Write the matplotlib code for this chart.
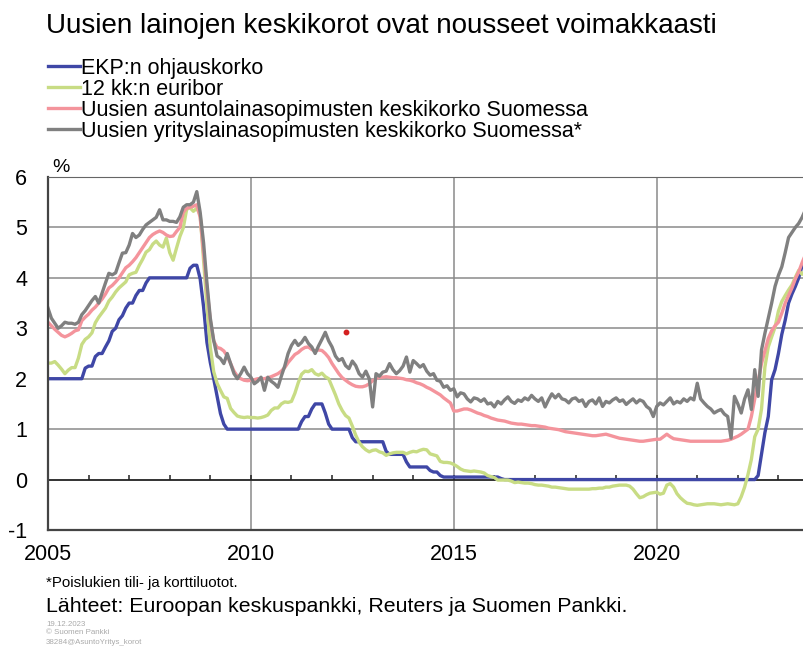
import numpy as np
import matplotlib
matplotlib.use("Agg")
import matplotlib.pyplot as plt

plt.rcParams['font.family'] = ['Liberation Sans', 'DejaVu Sans']
plt.rcParams['axes.unicode_minus'] = False

# monthly values, Jan 2005 onwards (one row per year)
ekp = [
    2.00, 2.00, 2.00, 2.00, 2.00, 2.00, 2.00, 2.00, 2.00, 2.00, 2.00, 2.21,
    2.25, 2.25, 2.44, 2.50, 2.50, 2.63, 2.75, 2.94, 3.00, 3.17, 3.25, 3.40,
    3.50, 3.50, 3.65, 3.75, 3.75, 3.90, 4.00, 4.00, 4.00, 4.00, 4.00, 4.00,
    4.00, 4.00, 4.00, 4.00, 4.00, 4.00, 4.19, 4.25, 4.25, 3.98, 3.43, 2.72,
    2.32, 2.00, 1.66, 1.31, 1.10, 1.00, 1.00, 1.00, 1.00, 1.00, 1.00, 1.00,
    1.00, 1.00, 1.00, 1.00, 1.00, 1.00, 1.00, 1.00, 1.00, 1.00, 1.00, 1.00,
    1.00, 1.00, 1.00, 1.15, 1.25, 1.25, 1.40, 1.50, 1.50, 1.50, 1.32, 1.10,
    1.00, 1.00, 1.00, 1.00, 1.00, 1.00, 0.83, 0.75, 0.75, 0.75, 0.75, 0.75,
    0.75, 0.75, 0.75, 0.75, 0.56, 0.50, 0.50, 0.50, 0.50, 0.50, 0.35, 0.25,
    0.25, 0.25, 0.25, 0.25, 0.25, 0.18, 0.15, 0.15, 0.08, 0.05, 0.05, 0.05,
    0.05, 0.05, 0.05, 0.05, 0.05, 0.05, 0.05, 0.05, 0.05, 0.05, 0.05, 0.05,
    0.05, 0.05, 0.02, 0.00, 0.00, 0.00, 0.00, 0.00, 0.00, 0.00, 0.00, 0.00,
    0.00, 0.00, 0.00, 0.00, 0.00, 0.00, 0.00, 0.00, 0.00, 0.00, 0.00, 0.00,
    0.00, 0.00, 0.00, 0.00, 0.00, 0.00, 0.00, 0.00, 0.00, 0.00, 0.00, 0.00,
    0.00, 0.00, 0.00, 0.00, 0.00, 0.00, 0.00, 0.00, 0.00, 0.00, 0.00, 0.00,
    0.00, 0.00, 0.00, 0.00, 0.00, 0.00, 0.00, 0.00, 0.00, 0.00, 0.00, 0.00,
    0.00, 0.00, 0.00, 0.00, 0.00, 0.00, 0.00, 0.00, 0.00, 0.00, 0.00, 0.00,
    0.00, 0.00, 0.00, 0.00, 0.00, 0.00, 0.08, 0.50, 0.93, 1.25, 1.98, 2.18,
    2.50, 2.88, 3.16, 3.50, 3.68, 3.83, 4.00, 4.24, 4.34, 4.50, 4.50,
]

euribor = [
    2.31, 2.31, 2.34, 2.27, 2.19, 2.10, 2.17, 2.22, 2.22, 2.41, 2.68, 2.78,
    2.83, 2.91, 3.11, 3.22, 3.31, 3.40, 3.54, 3.62, 3.72, 3.80, 3.86, 3.92,
    4.06, 4.09, 4.11, 4.25, 4.37, 4.51, 4.56, 4.67, 4.73, 4.65, 4.61, 4.79,
    4.50, 4.35, 4.59, 4.82, 4.99, 5.36, 5.39, 5.32, 5.38, 5.25, 4.35, 3.45,
    2.62, 2.14, 1.91, 1.77, 1.64, 1.61, 1.41, 1.33, 1.26, 1.24, 1.23, 1.24,
    1.23, 1.23, 1.22, 1.23, 1.25, 1.28, 1.37, 1.42, 1.42, 1.50, 1.54, 1.53,
    1.55, 1.71, 1.92, 2.09, 2.15, 2.14, 2.18, 2.10, 2.07, 2.11, 2.04, 2.00,
    1.84, 1.68, 1.50, 1.37, 1.27, 1.22, 1.06, 0.88, 0.74, 0.65, 0.59, 0.55,
    0.58, 0.59, 0.55, 0.53, 0.48, 0.51, 0.53, 0.54, 0.54, 0.54, 0.51, 0.54,
    0.56, 0.55, 0.58, 0.60, 0.59, 0.51, 0.49, 0.47, 0.36, 0.34, 0.34, 0.33,
    0.30, 0.26, 0.21, 0.18, 0.17, 0.16, 0.17, 0.16, 0.15, 0.13, 0.08, 0.06,
    0.04, -0.01, -0.01, -0.01, -0.01, -0.03, -0.06, -0.05, -0.06, -0.07, -0.07, -0.08,
    -0.10, -0.11, -0.11, -0.12, -0.13, -0.15, -0.15, -0.16, -0.17, -0.18, -0.19, -0.19,
    -0.19, -0.19, -0.19, -0.19, -0.19, -0.18, -0.18, -0.17, -0.17, -0.15, -0.15, -0.13,
    -0.12, -0.11, -0.11, -0.11, -0.13, -0.19, -0.28, -0.36, -0.34, -0.30, -0.27, -0.26,
    -0.25, -0.29, -0.27, -0.11, -0.08, -0.15, -0.28, -0.36, -0.42, -0.47, -0.48, -0.50,
    -0.51, -0.50, -0.49, -0.48, -0.48, -0.48, -0.49, -0.50, -0.49, -0.48, -0.49, -0.50,
    -0.48, -0.34, -0.15, 0.10, 0.40, 0.85, 1.00, 1.40, 2.23, 2.63, 2.83, 3.02,
    3.34, 3.53, 3.65, 3.76, 3.86, 4.01, 4.15, 4.07, 4.15, 4.16, 4.02,
]

asuntolainat = [
    3.12, 3.05, 2.98, 2.92, 2.86, 2.83, 2.86, 2.90, 2.95, 2.97, 3.15, 3.22,
    3.28, 3.36, 3.42, 3.50, 3.58, 3.68, 3.80, 3.85, 3.92, 4.00, 4.10, 4.20,
    4.25, 4.32, 4.40, 4.50, 4.60, 4.70, 4.80, 4.86, 4.90, 4.93, 4.90, 4.85,
    4.82, 4.83, 4.92, 5.00, 5.30, 5.38, 5.40, 5.42, 5.45, 5.20, 4.50, 3.80,
    3.15, 2.75, 2.62, 2.60, 2.55, 2.45, 2.30, 2.15, 2.05, 2.00, 1.97, 1.96,
    1.97, 1.98, 2.00, 2.00, 2.00, 2.02, 2.04, 2.07, 2.10, 2.15, 2.22, 2.32,
    2.40, 2.48, 2.52, 2.58, 2.62, 2.63, 2.58, 2.55, 2.57, 2.56, 2.50, 2.42,
    2.30, 2.20, 2.10, 2.02, 1.97, 1.92, 1.88, 1.85, 1.84, 1.84, 1.86, 1.90,
    1.96, 2.00, 2.03, 2.03, 2.04, 2.03, 2.02, 2.02, 2.01, 2.00, 1.98, 1.97,
    1.95, 1.92, 1.90, 1.87, 1.83, 1.80, 1.76, 1.72, 1.68, 1.62, 1.57, 1.52,
    1.36, 1.36, 1.38, 1.40, 1.40, 1.38, 1.35, 1.32, 1.30, 1.27, 1.25, 1.22,
    1.20, 1.18, 1.17, 1.16, 1.14, 1.12, 1.11, 1.10, 1.10, 1.09, 1.08, 1.07,
    1.07, 1.06, 1.05, 1.04, 1.02, 1.01, 1.00, 0.99, 0.97, 0.95, 0.94, 0.93,
    0.92, 0.91, 0.90, 0.89, 0.88, 0.87, 0.87, 0.88, 0.89, 0.90, 0.88, 0.86,
    0.84, 0.82, 0.81, 0.80, 0.79, 0.78, 0.77, 0.76, 0.76, 0.77, 0.78, 0.79,
    0.80, 0.80, 0.85, 0.90, 0.85, 0.81, 0.80, 0.79, 0.78, 0.77, 0.76, 0.76,
    0.76, 0.76, 0.76, 0.76, 0.76, 0.76, 0.76, 0.76, 0.77, 0.78, 0.80, 0.83,
    0.86, 0.90, 0.95, 1.00, 1.25, 1.60, 1.95, 2.30, 2.55, 2.80, 2.95, 3.05,
    3.12, 3.30, 3.50, 3.65, 3.80, 3.98, 4.12, 4.30, 4.46, 4.60, 4.65,
]

yrityslainat = [
    3.40, 3.20, 3.10, 3.00, 3.05, 3.12, 3.10, 3.10, 3.08, 3.12, 3.27, 3.35,
    3.45, 3.55, 3.63, 3.50, 3.70, 3.90, 4.09, 4.06, 4.10, 4.30, 4.49, 4.50,
    4.65, 4.88, 4.80, 4.85, 4.96, 5.05, 5.10, 5.15, 5.20, 5.35, 5.15, 5.15,
    5.12, 5.12, 5.10, 5.21, 5.40, 5.45, 5.45, 5.50, 5.71, 5.30, 4.70, 3.90,
    3.20, 2.76, 2.45, 2.40, 2.30, 2.50, 2.30, 2.10, 2.00, 2.10, 2.23, 2.10,
    2.03, 1.90, 1.95, 2.03, 1.77, 2.03, 1.95, 1.90, 1.83, 2.05, 2.25, 2.50,
    2.66, 2.76, 2.66, 2.72, 2.82, 2.70, 2.63, 2.50, 2.65, 2.78, 2.92, 2.75,
    2.63, 2.45, 2.36, 2.40, 2.26, 2.20, 2.35, 2.26, 2.10, 2.03, 2.15, 2.00,
    1.44, 2.10, 2.05, 2.13, 2.15, 2.30, 2.18, 2.10, 2.16, 2.25, 2.43, 2.13,
    2.36, 2.30, 2.23, 2.28, 2.15, 2.07, 2.10, 1.97, 1.95, 1.83, 1.86, 1.77,
    1.80, 1.64, 1.72, 1.70, 1.60, 1.54, 1.62, 1.60, 1.55, 1.60, 1.50, 1.52,
    1.44, 1.55, 1.50, 1.58, 1.64, 1.55, 1.51, 1.58, 1.55, 1.62, 1.58, 1.67,
    1.60, 1.55, 1.62, 1.44, 1.58, 1.70, 1.62, 1.69, 1.60, 1.58, 1.52, 1.60,
    1.62, 1.55, 1.58, 1.45, 1.55, 1.58, 1.50, 1.62, 1.45, 1.55, 1.52, 1.58,
    1.62, 1.55, 1.58, 1.49, 1.55, 1.60, 1.52, 1.58, 1.55, 1.45, 1.40, 1.25,
    1.45, 1.52, 1.48, 1.55, 1.62, 1.50, 1.55, 1.52, 1.60, 1.55, 1.62, 1.58,
    1.91, 1.60, 1.52, 1.45, 1.40, 1.32, 1.36, 1.39, 1.30, 1.25, 0.82, 1.65,
    1.50, 1.32, 1.60, 1.78, 1.39, 2.18, 1.65, 2.57, 2.90, 3.20, 3.50, 3.83,
    4.05, 4.22, 4.50, 4.80, 4.90, 5.00, 5.08, 5.20, 5.35, 5.40, 5.40,
]

red_dot = (2012.35, 2.93)

series = [
    ("EKP:n ohjauskorko", ekp, "#3f47a6"),
    ("12 kk:n euribor", euribor, "#c8dc84"),
    ("Uusien asuntolainasopimusten keskikorko Suomessa", asuntolainat, "#f4949c"),
    ("Uusien yrityslainasopimusten keskikorko Suomessa*", yrityslainat, "#808080"),
]

fig = plt.figure(figsize=(8.04, 6.51), dpi=100)
ax = fig.add_axes([48 / 804, 121 / 651, 771 / 804, 353 / 651])

for label, vals, col in series:
    t = 2005 + np.arange(len(vals)) / 12
    ax.plot(t, vals, color=col, lw=2.4, label=label, solid_joinstyle='round')

ax.plot(*red_dot, 'o', color='#d42020', ms=3.2)

ax.set_xlim(2005, 2024)
ax.set_ylim(-1, 6)
ax.set_yticks(range(-1, 7))
ax.set_xticks([2005, 2010, 2015, 2020])
ax.tick_params(axis='both', length=0, labelsize=15.5)
ax.tick_params(axis='y', pad=15)
ax.tick_params(axis='x', pad=10)
ax.grid(True, color='#8a8a8a', lw=1.1)
ax.set_axisbelow(True)
ax.axhline(0, color='#222222', lw=1.2, zorder=1.5)
ax.vlines(np.arange(2006, 2024), 0, 0.1, color='#222222', lw=1.1, zorder=1.5)

for side in ['left', 'bottom']:
    ax.spines[side].set_color('#444444')
    ax.spines[side].set_linewidth(1.6)
ax.spines['top'].set_color('#666666')
ax.spines['right'].set_visible(False)

ax.text(0.005, 1.004, '%', transform=ax.transAxes, fontsize=14, va='bottom')

fig.text(46 / 804, 1 - 33 / 651, 'Uusien lainojen keskikorot ovat nousseet voimakkaasti',
         fontsize=20, va='baseline')
fig.legend(loc='upper left', bbox_to_anchor=(48 / 804, 1 - 58 / 651), frameon=False,
           fontsize=15.5, handlelength=1.5, handletextpad=0.03, labelspacing=0.0,
           borderpad=0, borderaxespad=0)

fig.text(46 / 804, 1 - 583 / 651, '*Poislukien tili- ja korttiluotot.', fontsize=10.8, va='center')
fig.text(46 / 804, 1 - 606 / 651, 'Lähteet: Euroopan keskuspankki, Reuters ja Suomen Pankki.',
         fontsize=15.4, va='center')
for txt, yy in [('19.12.2023', 624), ('© Suomen Pankki', 633), ('38284@AsuntoYritys_korot', 643)]:
    fig.text(46 / 804, 1 - yy / 651, txt, fontsize=5.7, color='#aaaaaa', va='center')

fig.savefig('out.png', dpi=100)
